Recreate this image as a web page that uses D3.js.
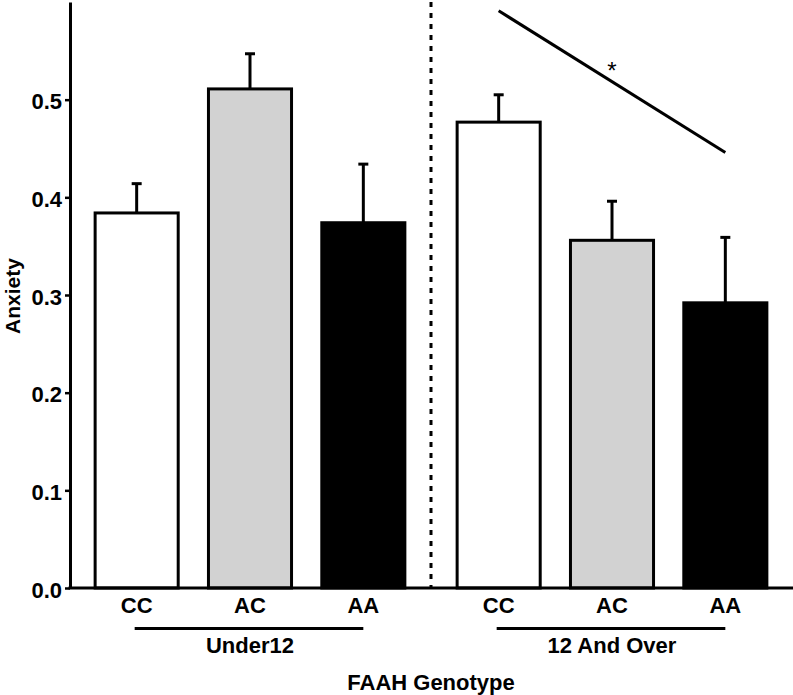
<!DOCTYPE html>
<html>
<head>
<meta charset="utf-8">
<script src="https://cdn.jsdelivr.net/npm/d3@7"></script>
<style>
  html, body { margin: 0; padding: 0; background: #fff; }
  svg { display: block; }
  text { font-family: "Liberation Sans", Arial, Helvetica, sans-serif; }
</style>
</head>
<body>
<div id="chart"></div>
<script>
// ---- data ----
const groups = ["Under12", "12 And Over"];
const genotypes = ["CC", "AC", "AA"];
const meansUnder12 = [0.384, 0.511, 0.374];
const errUnder12   = [0.030, 0.036, 0.060];
const means12Over  = [0.477, 0.356, 0.292];
const err12Over    = [0.028, 0.040, 0.067];
const barFills = ["#ffffff", "#d2d2d2", "#000000"];
const yTicks = [0.0, 0.1, 0.2, 0.3, 0.4, 0.5];
const sigFrom = {group: "12 And Over", geno: "CC", value: 0.591};
const sigTo   = {group: "12 And Over", geno: "AA", value: 0.446};
const sigLabel = "*";
const yTitle = "Anxiety";
const xTitle = "FAAH Genotype";

const W = 793, H = 695;
const svg = d3.select("#chart").append("svg").attr("width", W).attr("height", H);

const y = d3.scaleLinear().domain([0, 0.6]).range([588, 2]);
const xGroup = d3.scaleBand().domain(groups).range([80, 782]).paddingInner(0.0608).paddingOuter(0);
const xGeno = d3.scaleBand().domain(genotypes).range([0, xGroup.bandwidth()]).paddingInner(0.267).paddingOuter(0.1335);

const rows = [];
groups.forEach((g, gi) => {
  const m = gi === 0 ? meansUnder12 : means12Over;
  const e = gi === 0 ? errUnder12 : err12Over;
  genotypes.forEach((k, ki) => rows.push({group: g, geno: k, mean: m[ki], err: e[ki], fill: barFills[ki]}));
});
const cx = (g, k) => xGroup(g) + xGeno(k) + xGeno.bandwidth() / 2;

// error bars (behind bars)
const eb = svg.append("g").attr("stroke", "#000").attr("stroke-width", 3);
rows.forEach(r => {
  const x0 = cx(r.group, r.geno);
  eb.append("line").attr("x1", x0).attr("x2", x0).attr("y1", y(r.mean)).attr("y2", y(r.mean + r.err));
  eb.append("line").attr("x1", x0 - 5).attr("x2", x0 + 5).attr("y1", y(r.mean + r.err)).attr("y2", y(r.mean + r.err));
});

// bars
svg.append("g").selectAll("rect").data(rows).join("rect")
  .attr("x", d => xGroup(d.group) + xGeno(d.geno))
  .attr("width", xGeno.bandwidth())
  .attr("y", d => y(d.mean))
  .attr("height", d => y(0) - y(d.mean))
  .attr("fill", d => d.fill)
  .attr("stroke", "#000")
  .attr("stroke-width", 3);

// dashed separator
const sepX = (xGroup(groups[0]) + xGroup.bandwidth() + xGroup(groups[1])) / 2;
svg.append("line").attr("x1", sepX).attr("x2", sepX).attr("y1", y(0.6)).attr("y2", y(0))
  .attr("stroke", "#000").attr("stroke-width", 3).attr("stroke-dasharray", "5,6");

// y axis
const yAxis = d3.axisLeft(y).tickValues(yTicks).tickFormat(d3.format(".1f")).tickSize(5).tickSizeOuter(0).tickPadding(3);
const ya = svg.append("g").attr("transform", "translate(70,0)").call(yAxis);
ya.select(".domain").attr("stroke-width", 3);
ya.selectAll(".tick line").attr("stroke-width", 2.5);
ya.selectAll(".tick text").attr("font-size", 22).attr("font-weight", "bold").attr("dy", "0.42em")
  .attr("font-family", "Liberation Sans, Arial, sans-serif").attr("fill", "#000");

// x axis baseline
svg.append("line").attr("x1", 68.5).attr("x2", W).attr("y1", y(0)).attr("y2", y(0))
  .attr("stroke", "#000").attr("stroke-width", 3);

// category labels
svg.append("g").selectAll("text").data(rows).join("text")
  .attr("x", d => cx(d.group, d.geno)).attr("y", 613)
  .attr("text-anchor", "middle").attr("font-size", 22).attr("font-weight", "bold")
  .text(d => d.geno);

// group lines and labels
groups.forEach(g => {
  const a = cx(g, genotypes[0]), b = cx(g, genotypes[genotypes.length - 1]);
  svg.append("line").attr("x1", a - 2).attr("x2", b).attr("y1", 628.5).attr("y2", 628.5)
    .attr("stroke", "#000").attr("stroke-width", 3);
  svg.append("text").attr("x", cx(g, genotypes[1])).attr("y", 652.5)
    .attr("text-anchor", "middle").attr("font-size", 22).attr("font-weight", "bold").text(g);
});

// axis titles
svg.append("text").attr("x", sepX).attr("y", 689.5).attr("text-anchor", "middle")
  .attr("font-size", 22).attr("font-weight", "bold").text(xTitle);
svg.append("text").attr("transform", "translate(19.5,296) rotate(-90)").attr("text-anchor", "middle")
  .attr("font-size", 21).attr("font-weight", "bold").text(yTitle);

// significance line
const sx1 = cx(sigFrom.group, sigFrom.geno), sx2 = cx(sigTo.group, sigTo.geno);
svg.append("line").attr("x1", sx1).attr("x2", sx2).attr("y1", y(sigFrom.value)).attr("y2", y(sigTo.value))
  .attr("stroke", "#000").attr("stroke-width", 3);
svg.append("text").attr("x", (sx1 + sx2) / 2).attr("y", 79).attr("text-anchor", "middle")
  .attr("font-size", 24).text(sigLabel);
</script>
</body>
</html>
